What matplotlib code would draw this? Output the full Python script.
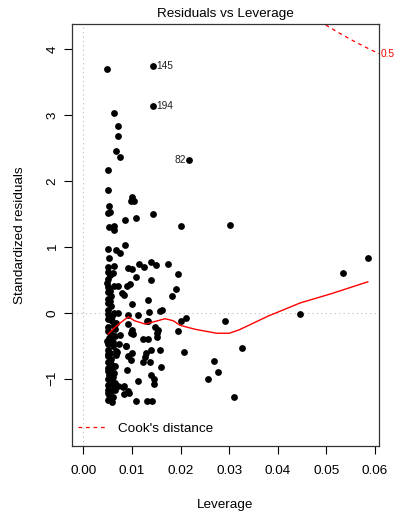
import numpy as np
import matplotlib.pyplot as plt

plt.rcParams['font.family'] = ['Liberation Sans', 'DejaVu Sans']

# leverage / standardized residual pairs
leverage = [
    0.00494, 0.01434, 0.01434, 0.00632, 0.00708, 0.0072, 0.00666, 0.00755, 0.0218, 0.00502,
    0.00502, 0.00996, 0.0105, 0.0098, 0.00529, 0.0055, 0.00502, 0.01434, 0.0109, 0.00864,
    0.00522, 0.00638, 0.00625, 0.0201, 0.0302, 0.00502, 0.00666, 0.00755, 0.00864,
    0.00514, 0.00638, 0.00926, 0.01008, 0.01146, 0.01255, 0.01393, 0.0149, 0.0175, 0.0055,
    0.00502, 0.01084, 0.0195, 0.01393, 0.0096, 0.00893, 0.00514, 0.00638, 0.00708, 0.019,
    0.0079, 0.00844, 0.00514, 0.0057, 0.0183, 0.00514, 0.01008, 0.01325, 0.0057, 0.00514,
    0.0161, 0.0158, 0.01132, 0.01352, 0.00514, 0.00638, 0.00708, 0.00514, 0.0200, 0.0211,
    0.00926, 0.01337, 0.00666, 0.0291, 0.0446, 0.0533, 0.0585,
    0.0148, 0.0151, 0.0152, 0.01955, 0.01235, 0.0134, 0.0091, 0.00996, 0.0103, 0.00755,
    0.0088, 0.0326, 0.0139, 0.0158, 0.0207, 0.00584, 0.0098, 0.0153, 0.013, 0.00514,
    0.00872, 0.01284, 0.00996, 0.00926, 0.00666, 0.0055, 0.0127, 0.00514, 0.0098, 0.01372,
    0.01235, 0.00652, 0.016, 0.00905, 0.00514, 0.00597, 0.01393, 0.00514, 0.0146, 0.01132,
    0.00652, 0.0055, 0.0146, 0.00514, 0.0072, 0.00844, 0.00926, 0.00514, 0.00844, 0.0057,
    0.00652, 0.00514, 0.00584, 0.01078, 0.013, 0.0142, 0.00514, 0.00638, 0.0055, 0.00514,
    0.00514, 0.0055, 0.00597, 0.0055, 0.0268, 0.0277, 0.0257, 0.031, 0.00947, 0.00823,
    0.0050, 0.0053, 0.0060, 0.0050, 0.0056, 0.0052, 0.0061, 0.0058, 0.0065, 0.0062,
    0.0068, 0.0064, 0.0059, 0.0063, 0.0054, 0.0060, 0.0052, 0.0049, 0.0056,
    0.0051, 0.0055, 0.0050, 0.0057, 0.0053, 0.0059, 0.0050, 0.0054, 0.0066, 0.0070,
    0.0051, 0.0058, 0.0062, 0.0049, 0.0055, 0.0074,
]
std_resid = [
    3.69, 3.74, 3.14, 3.03, 2.83, 2.68, 2.46, 2.37, 2.32, 2.17,
    1.87, 1.75, 1.69, 1.69, 1.62, 1.53, 1.51, 1.50, 1.44, 1.40,
    1.30, 1.32, 1.25, 1.32, 1.33, 0.97, 0.95, 0.90, 1.03,
    0.70, 0.71, 0.68, 0.66, 0.74, 0.69, 0.77, 0.72, 0.74, 0.58,
    0.51, 0.55, 0.59, 0.50, 0.44, 0.41, 0.39, 0.41, 0.41, 0.36,
    0.30, 0.27, 0.31, 0.25, 0.26, 0.21, 0.14, 0.19, 0.11, 0.15,
    0.05, 0.02, -0.03, 0.005, 0.05, 0.0, 0.0, -0.10, -0.12, -0.08,
    -0.03, -0.12, -0.15, -0.13, -0.015, 0.60, 0.83,
    -0.21, -0.30, -0.36, -0.27, -0.40, -0.40, -0.17, -0.26, -0.32, -0.34,
    -0.51, -0.54, -0.56, -0.56, -0.59, -0.33, -0.31, -0.26, -0.13, -0.47,
    -0.51, -0.61, -0.61, -0.66, -0.64, -0.61, -0.67, -0.74, -0.71, -0.74,
    -0.75, -0.81, -0.82, -0.87, -0.89, -0.94, -0.95, -1.00, -1.00, -1.03,
    -1.07, -1.06, -1.08, -1.09, -1.11, -1.11, -1.18, -1.17, -1.23, -1.19,
    -1.17, -1.32, -1.36, -1.34, -1.34, -1.34, -0.21, -0.18, -0.41, -0.56,
    -0.66, -0.79, -0.85, -0.97, -0.73, -0.90, -1.00, -1.27, -1.21, -1.13,
    -0.28, -0.38, -0.50, -0.83, -0.70, -1.25, -1.28, -0.05, -0.25, -0.45,
    -0.58, -0.92, -1.02, -1.13, 0.33, 0.60, 0.83, 0.45, -1.30,
    -0.02, -0.30, -0.62, -0.77, -0.95, -1.05, -1.22, 0.18, -0.35, -0.60,
    0.62, -0.12, -0.98, -0.42, -0.88, -0.47,
]

# labelled observations: (id, leverage, residual, side)
flagged = [("145", 0.01434, 3.74, "right"), ("194", 0.01434, 3.14, "right"),
           ("82", 0.0218, 2.32, "left")]

# smoother through the points
smooth_lev = [0.00514, 0.0065, 0.0080, 0.00926, 0.0105, 0.0127, 0.0148, 0.0168,
              0.0185, 0.0199, 0.0230, 0.0274, 0.0300, 0.0320, 0.0380, 0.0446, 0.0510, 0.0585]
smooth_res = [-0.32, -0.22, -0.13, -0.06, -0.12, -0.17, -0.13, -0.09,
              -0.12, -0.19, -0.25, -0.31, -0.31, -0.26, -0.05, 0.15, 0.29, 0.47]

cook_level = 0.5
n_params = 2

xlim = (-0.00233, 0.0608)
ylim = (-2.02, 4.38)

fig = plt.figure(figsize=(3.99, 5.11), dpi=100)
ax = fig.add_axes([72 / 399, 1 - 446 / 511, 307 / 399, 422 / 511])

ax.axhline(0, color="#bbbbbb", lw=0.8, ls=(0, (1, 3)), zorder=1)
ax.axvline(0, color="#bbbbbb", lw=0.8, ls=(0, (1, 3)), zorder=1)

ax.scatter(leverage, std_resid, s=24, color="black", linewidths=0, zorder=3)
ax.plot(smooth_lev, smooth_res, color="red", lw=1, zorder=4)

for lab, lx, ly, side in flagged:
    dx = 0.0007 if side == "right" else -0.0007
    ax.text(lx + dx, ly, lab, fontsize=7.3, color="#222222", va="center",
            ha="left" if side == "right" else "right")

# Cook's distance contour
h = np.linspace(0.001, xlim[1], 400)
r = np.sqrt(cook_level * n_params * (1 - h) / h)
ax.plot(h, r, color="red", lw=0.9, ls=(0, (3, 3)), zorder=2, label="Cook's distance")
ax.plot(h, -r, color="red", lw=0.9, ls=(0, (3, 3)), zorder=2)
r_edge = np.sqrt(cook_level * n_params * (1 - xlim[1]) / xlim[1])
ax.text(xlim[1] + 0.0003, r_edge, "0.5", color="red", fontsize=7.3,
        ha="left", va="center", clip_on=False)

ax.set_xlim(*xlim)
ax.set_ylim(*ylim)
ax.set_xticks([0.0, 0.01, 0.02, 0.03, 0.04, 0.05, 0.06])
ax.set_xticklabels(["0.00", "0.01", "0.02", "0.03", "0.04", "0.05", "0.06"])
ax.set_yticks([-1, 0, 1, 2, 3, 4])
ax.set_yticklabels(["\u22121", "0", "1", "2", "3", "4"], rotation=90, va="center")
ax.tick_params(axis="both", direction="out", length=5.5, width=0.8, labelsize=9.7)
ax.tick_params(axis="x", pad=8)
ax.tick_params(axis="y", pad=4)
for sp in ax.spines.values():
    sp.set_linewidth(0.9)
    sp.set_color("#333333")

ax.set_xlabel("Leverage", fontsize=9.7, labelpad=16)
ax.set_ylabel("Standardized residuals", fontsize=9.7, labelpad=15)
ax.set_title("Residuals vs Leverage", fontsize=9.7, pad=5)

ax.legend(loc="center left", bbox_to_anchor=(6 / 307, 17 / 422), frameon=False,
          fontsize=9.7, handlelength=2.1, handletextpad=0.9, borderpad=0,
          borderaxespad=0)

fig.savefig("out.png", dpi=100)
